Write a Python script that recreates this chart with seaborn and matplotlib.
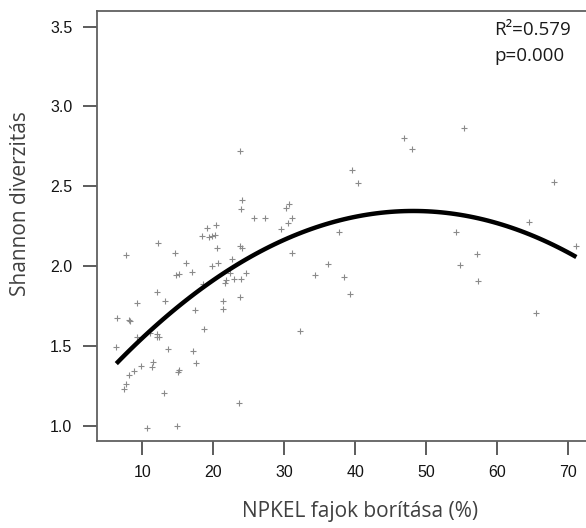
import matplotlib
matplotlib.use("Agg")
import matplotlib.pyplot as plt
import seaborn as sns
import pandas as pd

# NPKEL cover (%) and Shannon diversity
cover = [6.34, 6.48, 7.75, 8.13, 8.31, 9.21, 9.21, 12.28, 12.11, 13.24,
         11.08, 12.11, 12.03, 12.42, 14.54, 14.75, 15.17, 16.15, 16.96, 17.42,
         18.73, 18.45, 19.07, 19.39, 19.86, 20.17, 20.34, 20.49, 20.69, 19.86,
         22.61, 22.38, 21.82, 21.61, 22.92, 23.86, 24.65, 23.80, 23.99, 23.72,
         21.30, 21.30, 18.51, 29.54, 30.55, 31.13, 32.28, 34.39, 36.11, 37.75,
         38.41, 39.21, 54.18, 54.68, 57.10, 57.24, 64.51, 65.48, 71.13, 9.85,
         8.90, 8.08, 7.75, 7.42, 11.30, 11.46, 13.58, 13.06, 14.99, 15.13,
         17.10, 17.56, 23.55, 10.66, 14.89, 23.76, 24.07, 23.90, 25.69, 27.28,
         30.21, 30.66, 31.13, 39.54, 40.34, 46.79, 47.92, 55.34, 67.94]
shannon = [1.495, 1.675, 2.070, 1.662, 1.654, 1.769, 1.553, 2.143, 1.840, 1.783,
           1.579, 1.575, 1.554, 1.554, 2.084, 1.941, 1.949, 2.019, 1.961, 1.725,
           1.604, 2.189, 2.236, 2.185, 2.189, 2.194, 2.256, 2.115, 2.019, 1.999,
           2.043, 1.957, 1.910, 1.896, 1.919, 1.919, 1.956, 2.124, 2.110, 1.805,
           1.783, 1.732, 1.886, 2.229, 2.272, 2.084, 1.595, 1.947, 2.013, 2.214,
           1.934, 1.825, 2.214, 2.005, 2.078, 1.905, 2.278, 1.704, 2.128, 1.374,
           1.345, 1.316, 1.259, 1.230, 1.367, 1.401, 1.481, 1.202, 1.338, 1.350,
           1.467, 1.395, 1.144, 0.986, 1.000, 2.723, 2.414, 2.358, 2.300, 2.300,
           2.365, 2.386, 2.300, 2.602, 2.523, 2.804, 2.731, 2.867, 2.529]

x_ticks = [10, 20, 30, 40, 50, 60, 70]
y_ticks = [1.0, 1.5, 2.0, 2.5, 3.0, 3.5]
x_label = "NPKEL fajok borítása (%)"
y_label = "Shannon diverzitás"
stats_lines = ["R²=0.579", "p=0.000"]

df = pd.DataFrame({"cover": cover, "shannon": shannon})

sns.set_style("ticks")
plt.rcParams["font.family"] = ["Liberation Sans", "DejaVu Sans"]

fig = plt.figure(figsize=(5.86, 5.28), dpi=100)
ax = fig.add_axes([0.166, 0.1648, 0.834, 0.8144])

sns.scatterplot(data=df, x="cover", y="shannon", marker="+", color="#8a8a8a",
                s=13, linewidth=0.8, ax=ax, zorder=2)
sns.regplot(data=df, x="cover", y="shannon", order=2, ci=None, scatter=False,
            line_kws=dict(color="black", lw=3.2, solid_capstyle="butt"), ax=ax)

ax.set_xlim(3.66, 72.49)
ax.set_ylim(0.904, 3.598)
ax.set_xticks(x_ticks)
ax.set_yticks(y_ticks)
ax.set_xticklabels([str(t) for t in x_ticks])
ax.set_yticklabels([f"{t:.1f}" for t in y_ticks])

spine_col = "#606060"
for s in ["left", "top", "bottom"]:
    ax.spines[s].set_visible(True)
    ax.spines[s].set_color(spine_col)
    ax.spines[s].set_linewidth(1.3)
ax.spines["right"].set_visible(False)

ax.tick_params(axis="both", direction="out", length=10, width=1.1,
               color="#303030", labelsize=11.5, labelcolor="#141414", pad=8)
ax.tick_params(axis="x", pad=7)

ax.set_xlabel(x_label, fontsize=15, color="#404040", family=["Open Sans", "DejaVu Sans"])
ax.set_ylabel(y_label, fontsize=15, color="#404040", family=["Open Sans", "DejaVu Sans"])
ax.xaxis.set_label_coords((360.5 - 97.3) / 488.7, -0.14)
ax.yaxis.set_label_coords((31 - 97.3) / 488.7, 0.551)

for i, line in enumerate(stats_lines):
    ax.text(494, 528 - 30 - 26 * i, line, transform=None, ha="left", va="center",
            fontsize=13.5, color="#1a1a1a", family=["Open Sans", "DejaVu Sans"])

fig.savefig("out.png", dpi=100)
